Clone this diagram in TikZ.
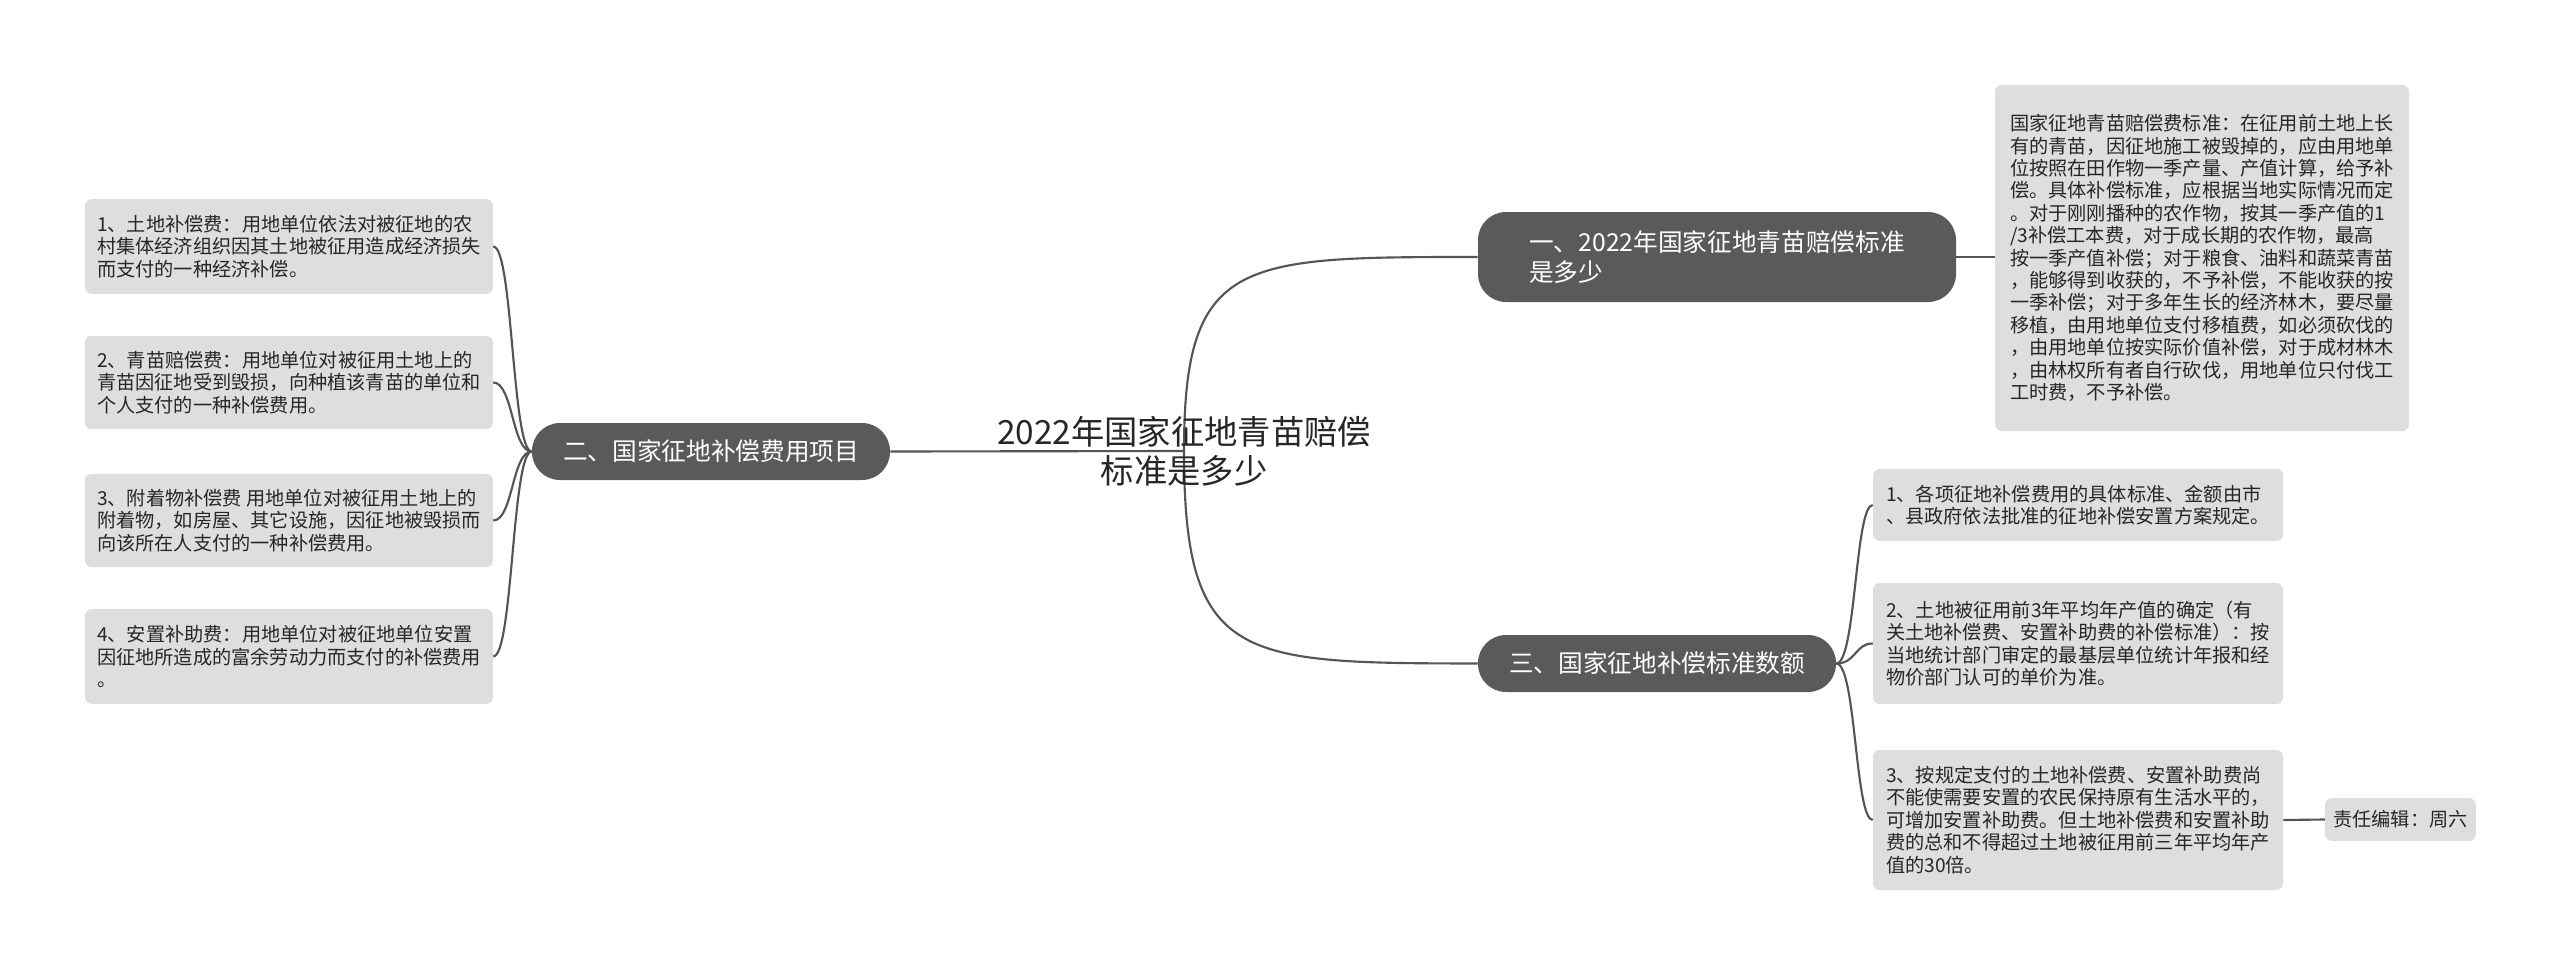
\documentclass[tikz,border=0pt]{standalone}
\usepackage{fontspec}
\setmainfont{Noto Sans CJK SC}
\begin{document}
\begin{tikzpicture}[x=0.75pt,y=-0.75pt,
  box/.style={fill=boxgray,rounded corners=5pt,inner xsep=6pt,align=left,font=\fontsize{14.4}{16.8}\selectfont,text=black!85},
  dark/.style={fill=darkgray2,rounded corners=21pt,text=white,align=left,font=\fontsize{18.5}{22}\selectfont},
  ln/.style={draw=linegray,line width=1.6pt}]
\definecolor{boxgray}{HTML}{DEDEDE}
\definecolor{darkgray2}{HTML}{5A5A5A}
\definecolor{linegray}{HTML}{555555}
\useasboundingbox (0,0) rectangle (2560,974);
\fill[white] (0,0) rectangle (2560,974);
\coordinate (c) at (1184,451);
% dark branch nodes
\node[dark,minimum width=358.5pt,minimum height=67.5pt] (b1) at (1717,257) {一、2022年国家征地青苗赔偿标准\\是多少};
\node[dark,minimum width=268.5pt,minimum height=42.75pt,align=center] (b2) at (711,451.5) {二、国家征地补偿费用项目};
\node[dark,minimum width=268.5pt,minimum height=42.75pt,align=center] (b3) at (1657,663.5) {三、国家征地补偿标准数额};
% right top
\node[box,minimum width=310.5pt,minimum height=259.5pt] (r1) at (2202,258) {国家征地青苗赔偿费标准：在征用前土地上长\\有的青苗，因征地施工被毁掉的，应由用地单\\位按照在田作物一季产量、产值计算，给予补\\偿。具体补偿标准，应根据当地实际情况而定\\。对于刚刚播种的农作物，按其一季产值的1\\/3补偿工本费，对于成长期的农作物，最高\\按一季产值补偿；对于粮食、油料和蔬菜青苗\\，能够得到收获的，不予补偿，不能收获的按\\一季补偿；对于多年生长的经济林木，要尽量\\移植，由用地单位支付移植费，如必须砍伐的\\，由用地单位按实际价值补偿，对于成材林木\\，由林权所有者自行砍伐，用地单位只付伐工\\工时费，不予补偿。};
% right bottom
\node[box,minimum width=307.5pt,minimum height=54pt] (s1) at (2078,505) {1、各项征地补偿费用的具体标准、金额由市\\、县政府依法批准的征地补偿安置方案规定。};
\node[box,minimum width=307.5pt,minimum height=90.75pt] (s2) at (2078,643.5) {2、土地被征用前3年平均年产值的确定（有\\关土地补偿费、安置补助费的补偿标准）：按\\当地统计部门审定的最基层单位统计年报和经\\物价部门认可的单价为准。};
\node[box,minimum width=307.5pt,minimum height=105pt] (s3) at (2078,820) {3、按规定支付的土地补偿费、安置补助费尚\\不能使需要安置的农民保持原有生活水平的，\\可增加安置补助费。但土地补偿费和安置补助\\费的总和不得超过土地被征用前三年平均年产\\值的30倍。};
\node[box,minimum width=113pt,minimum height=32pt,align=center] (ed) at (2400.5,819.5) {责任编辑：周六};
% left
\node[box,minimum width=306pt,minimum height=71pt] (l1) at (289,246.5) {1、土地补偿费：用地单位依法对被征地的农\\村集体经济组织因其土地被征用造成经济损失\\而支付的一种经济补偿。};
\node[box,minimum width=306pt,minimum height=70pt] (l2) at (289,382.5) {2、青苗赔偿费：用地单位对被征用土地上的\\青苗因征地受到毁损，向种植该青苗的单位和\\个人支付的一种补偿费用。};
\node[box,minimum width=306pt,minimum height=70pt] (l3) at (289,520.5) {3、附着物补偿费 用地单位对被征用土地上的\\附着物，如房屋、其它设施，因征地被毁损而\\向该所在人支付的一种补偿费用。};
\node[box,minimum width=306pt,minimum height=71pt] (l4) at (289,656.5) {4、安置补助费：用地单位对被征地单位安置\\因征地所造成的富余劳动力而支付的补偿费用\\。};
% connectors
\draw[ln] (b2.east) -- (c);
\draw[ln] (c) .. controls (1184,257) and (1240,257) .. (b1.west);
\draw[ln] (c) .. controls (1184,663) and (1240,663) .. (b3.west);
\draw[ln] (b1.east) -- (r1.west |- b1.east);
\foreach \n in {l1,l2,l3,l4}{
  \draw[ln] (b2.west) .. controls (512,451.5) and (513,0 |- \n.east) .. (\n.east);
}
\foreach \n in {s1,s2,s3}{
  \draw[ln] (b3.east) .. controls (1856,663.5) and (1855,0 |- \n.west) .. (\n.west);
}
\draw[ln] (s3.east) -- (ed.west);
\node[font=\fontsize{25}{29}\selectfont,align=center,text=black!85] (t) at (1184,451) {2022年国家征地青苗赔偿\\标准是多少};
\end{tikzpicture}
\end{document}
